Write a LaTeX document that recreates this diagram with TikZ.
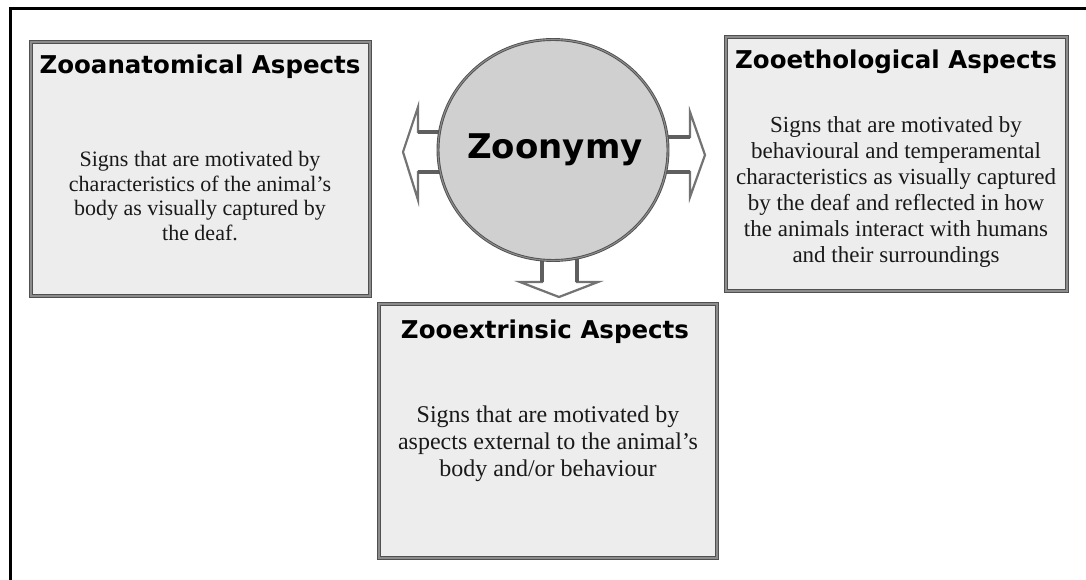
\documentclass[tikz,border=0pt]{standalone}
\usepackage{fontspec}
\setmainfont{Liberation Serif}
\newfontfamily\titlefont{DejaVu Sans}
\usetikzlibrary{shapes.geometric}
\definecolor{boxfill}{RGB}{237,237,237}
\definecolor{circfill}{RGB}{208,208,208}
\definecolor{edgedark}{RGB}{80,80,80}
\definecolor{edgelight}{RGB}{140,140,140}
\definecolor{arrowedge}{RGB}{115,115,115}
\definecolor{shaftedge}{RGB}{95,95,95}
\definecolor{bodytext}{RGB}{25,25,25}
\tikzset{
  aspectbox/.style={rectangle, draw=edgedark, double=edgelight, line width=1pt, double distance=1.2pt, fill=boxfill, inner sep=0pt},
  hub/.style={ellipse, draw=edgedark, double=edgelight, line width=0.9pt, double distance=1.1pt, fill=circfill, inner sep=0pt, minimum width=230pt, minimum height=221pt},
  boxtitle/.style={font=\titlefont\bfseries\fontsize{24.5}{28}\selectfont, inner sep=0pt},
  body/.style={align=center, inner sep=0pt, text=bodytext},
  blockarrow/.style={draw=arrowedge, line width=2.2pt, fill=white, line join=miter},
  shaftline/.style={draw=shaftedge, line width=3.2pt}
}
\begin{document}
\begin{tikzpicture}[x=1pt,y=-1pt]
\useasboundingbox (0,0) rectangle (1086,580);
% outer frame (partial)
\draw[line width=3pt] (10.5,580) -- (10.5,8.5) -- (1086,8.5);

% boxes
\node[aspectbox, minimum width=339pt, minimum height=254pt] (lbox) at (200.5,169) {};
\node[aspectbox, minimum width=341pt, minimum height=254pt] (rbox) at (896.5,164) {};
\node[aspectbox, minimum width=338pt, minimum height=254pt] (bbox) at (548,431) {};

% arrows (drawn before the hub so that it covers their inner ends)
\coordinate (hc) at (553,150);
\draw[blockarrow] (440,132) -- (418,132) -- (418,107) -- (403,152) -- (418,200) -- (418,172) -- (440,172);
\draw[shaftline] (440,132) -- (418,132) (418,172) -- (440,172);
\draw[blockarrow] (666,137) -- (690,137) -- (690,112) -- (705,155) -- (690,197) -- (690,172) -- (666,172);
\draw[shaftline] (666,137) -- (690,137) (690,172) -- (666,172);
\draw[blockarrow] (542,255) -- (542,282) -- (520,282) -- (559,297) -- (598,282) -- (577,282) -- (577,255);
\draw[shaftline] (542,255) -- (542,282) (577,282) -- (577,255);

% hub
\node[hub] (hub) at (hc) {};
\node[font=\titlefont\bfseries\fontsize{34}{40}\selectfont, inner sep=0pt] (hubtext) at (555,150) {Zoonymy};

% titles
\node[boxtitle] (ltitle) at (200,67) {Zooanatomical Aspects};
\node[boxtitle] (rtitle) at (896,62) {Zooethological Aspects};
\node[boxtitle] (btitle) at (545,332) {Zooextrinsic Aspects};

% body texts
\node[body, font=\fontsize{22}{24.5}\selectfont] (ltext) at (200,196)
  {Signs that are motivated by\\characteristics of the animal’s\\body as visually captured by\\the deaf.};
\node[body, font=\fontsize{23}{26}\selectfont] (rtext) at (896,192)
  {Signs that are motivated by\\behavioural and temperamental\\characteristics as visually captured\\by the deaf and reflected in how\\the animals interact with humans\\and their surroundings};
\node[body, font=\fontsize{24}{27}\selectfont] (btext) at (548,444)
  {Signs that are motivated by\\aspects external to the animal’s\\body and/or behaviour};
\end{tikzpicture}
\end{document}
